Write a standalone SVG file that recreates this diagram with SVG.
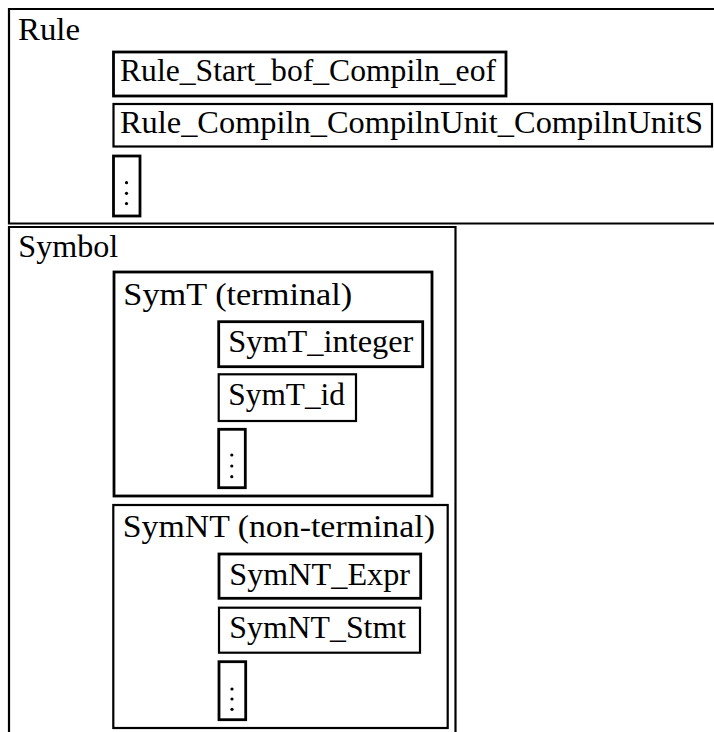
<svg xmlns="http://www.w3.org/2000/svg" width="714" height="732" viewBox="0 0 714 732">
<style>
  .box { fill: none; stroke: #000; stroke-width: 2.2; }
  .thick { fill: none; stroke: #000; stroke-width: 2.8; }
  text { font-family: "Liberation Serif", "DejaVu Serif", serif; font-size: 31px; fill: #000; }
  .dot { fill: #000; }
</style>
<rect width="714" height="732" fill="#fff"/>

<g id="rule">
  <path class="box" d="M720,9 H9 V223.5 H720"/>
  <text x="18" y="40" textLength="62" lengthAdjust="spacingAndGlyphs">Rule</text>
  <g id="rule-start">
    <rect class="thick" x="113.5" y="52" width="392.5" height="44"/>
    <text x="120" y="81" textLength="376" lengthAdjust="spacingAndGlyphs">Rule_Start_bof_Compiln_eof</text>
  </g>
  <g id="rule-compiln">
    <rect class="box" x="113.5" y="104" width="598.5" height="42.5"/>
    <text x="120" y="133" textLength="583" lengthAdjust="spacingAndGlyphs">Rule_Compiln_CompilnUnit_CompilnUnitS</text>
  </g>
  <g id="rule-more">
    <rect class="thick" x="113.5" y="156" width="26.5" height="60"/>
    <circle class="dot" cx="126.5" cy="182.7" r="1.6"/>
    <circle class="dot" cx="126.5" cy="193.3" r="1.6"/>
    <circle class="dot" cx="126.5" cy="203.6" r="1.6"/>
  </g>
</g>

<g id="symbol">
  <path class="box" d="M9,740 V227 H455.5 V740"/>
  <text x="18.3" y="257.3" textLength="100" lengthAdjust="spacingAndGlyphs">Symbol</text>

  <g id="symt">
    <rect class="thick" x="114" y="272" width="318" height="224"/>
    <text x="123.3" y="305" textLength="229" lengthAdjust="spacingAndGlyphs">SymT (terminal)</text>
    <g id="symt-integer">
      <rect class="thick" x="218.7" y="321.7" width="204" height="45"/>
      <text x="228.3" y="351.7" textLength="185" lengthAdjust="spacingAndGlyphs">SymT_integer</text>
    </g>
    <g id="symt-id">
      <rect class="box" x="218.7" y="374.3" width="137.3" height="46.7"/>
      <text x="228.3" y="405" textLength="116.7" lengthAdjust="spacingAndGlyphs">SymT_id</text>
    </g>
    <g id="symt-more">
      <rect class="thick" x="218.7" y="429.3" width="26.6" height="58.4"/>
      <circle class="dot" cx="231.8" cy="455" r="1.6"/>
      <circle class="dot" cx="231.8" cy="466" r="1.6"/>
      <circle class="dot" cx="231.8" cy="476.7" r="1.6"/>
    </g>
  </g>

  <g id="symnt">
    <rect class="box" x="113.3" y="505" width="334.4" height="223"/>
    <text x="122.7" y="536.7" textLength="312.3" lengthAdjust="spacingAndGlyphs">SymNT (non-terminal)</text>
    <g id="symnt-expr">
      <rect class="thick" x="219" y="554" width="201.7" height="44.3"/>
      <text x="229.3" y="585" textLength="180.7" lengthAdjust="spacingAndGlyphs">SymNT_Expr</text>
    </g>
    <g id="symnt-stmt">
      <rect class="box" x="219" y="607.7" width="201" height="45"/>
      <text x="229.3" y="637.7" textLength="176.7" lengthAdjust="spacingAndGlyphs">SymNT_Stmt</text>
    </g>
    <g id="symnt-more">
      <rect class="thick" x="219" y="661.7" width="26.7" height="58"/>
      <circle class="dot" cx="232" cy="689" r="1.6"/>
      <circle class="dot" cx="232" cy="699" r="1.6"/>
      <circle class="dot" cx="232" cy="709.3" r="1.6"/>
    </g>
  </g>
</g>
</svg>
